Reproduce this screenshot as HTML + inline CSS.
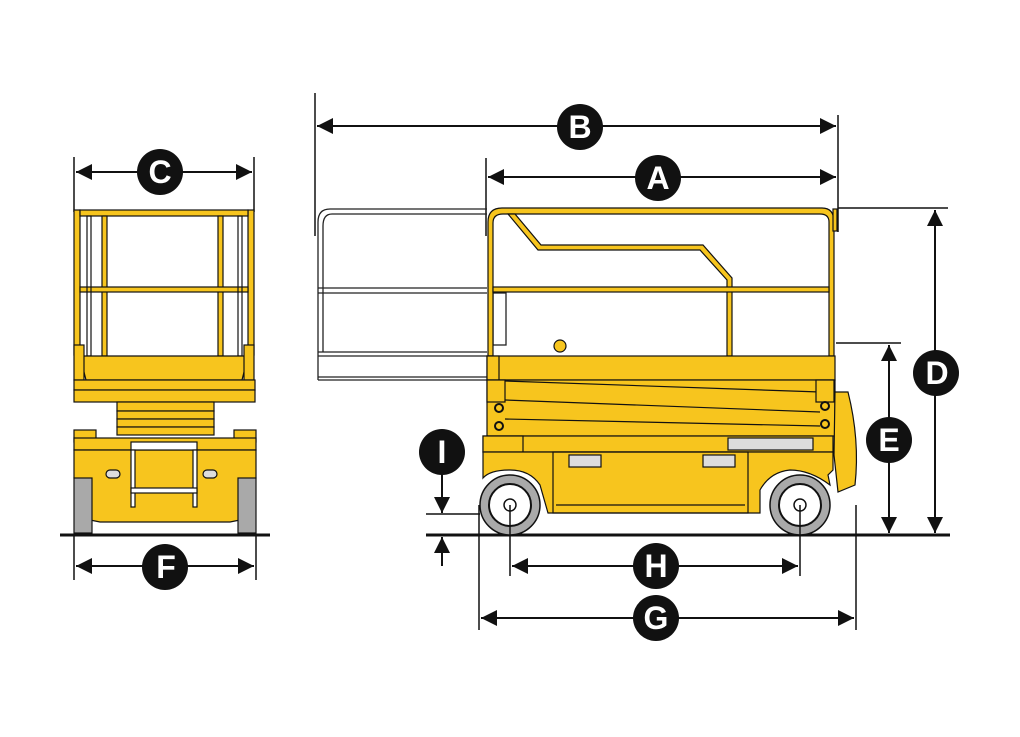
<!DOCTYPE html>
<html><head><meta charset="utf-8"><style>
html,body{margin:0;padding:0;background:#fff;}
svg{display:block}
text{font-family:"Liberation Sans",sans-serif;font-weight:bold;fill:#fff;text-anchor:middle;}
</style></head><body>
<svg width="1020" height="737" viewBox="0 0 1020 737" xmlns="http://www.w3.org/2000/svg">
<defs>
<marker id="ar" viewBox="0 0 10 10" refX="10" refY="5" markerWidth="10" markerHeight="10" markerUnits="userSpaceOnUse" orient="auto-start-reverse"><path d="M0,1 L10,5 L0,9 z" fill="#111"/></marker>
<marker id="arb" viewBox="0 0 10 10" refX="10" refY="5" markerWidth="20" markerHeight="16" markerUnits="userSpaceOnUse" orient="auto-start-reverse"><path d="M0,0 L10,5 L0,10 z" fill="#111"/></marker>
</defs>
<g stroke="#111" stroke-width="1.5" fill="none">
<!-- extension lines -->
<line x1="315" y1="93" x2="315" y2="236"/>
<line x1="838" y1="115" x2="838" y2="232"/>
<line x1="486" y1="158" x2="486" y2="236"/>
<line x1="74" y1="157" x2="74" y2="212"/>
<line x1="254" y1="157" x2="254" y2="212"/>
<line x1="838" y1="208" x2="948" y2="208"/>
<line x1="836" y1="343" x2="901" y2="343"/>
<line x1="74" y1="535" x2="74" y2="580"/>
<line x1="256" y1="535" x2="256" y2="580"/>
<line x1="510" y1="505" x2="510" y2="576"/>
<line x1="800" y1="505" x2="800" y2="576"/>
<line x1="479" y1="505" x2="479" y2="630"/>
<line x1="856" y1="505" x2="856" y2="630"/>
<line x1="426" y1="514" x2="480" y2="514"/>
<!-- dimension lines -->
<line x1="317" y1="126" x2="836" y2="126" stroke-width="2" marker-start="url(#arb)" marker-end="url(#arb)"/>
<line x1="488" y1="177" x2="836" y2="177" stroke-width="2" marker-start="url(#arb)" marker-end="url(#arb)"/>
<line x1="76" y1="172" x2="252" y2="172" stroke-width="2" marker-start="url(#arb)" marker-end="url(#arb)"/>
<line x1="935" y1="210" x2="935" y2="533" stroke-width="2" marker-start="url(#arb)" marker-end="url(#arb)"/>
<line x1="889" y1="345" x2="889" y2="533" stroke-width="2" marker-start="url(#arb)" marker-end="url(#arb)"/>
<line x1="76" y1="566" x2="254" y2="566" stroke-width="2" marker-start="url(#arb)" marker-end="url(#arb)"/>
<line x1="512" y1="566" x2="798" y2="566" stroke-width="2" marker-start="url(#arb)" marker-end="url(#arb)"/>
<line x1="481" y1="618" x2="854" y2="618" stroke-width="2" marker-start="url(#arb)" marker-end="url(#arb)"/>
<line x1="442" y1="470" x2="442" y2="513" stroke-width="2" marker-end="url(#arb)"/>
<line x1="442" y1="566" x2="442" y2="537" stroke-width="2" marker-end="url(#arb)"/>
<!-- ground -->
<line x1="60" y1="535" x2="270" y2="535" stroke-width="3"/>
<line x1="426" y1="535" x2="950" y2="535" stroke-width="3"/>
</g>

<!-- extension platform (outline) -->
<g stroke="#222" stroke-width="1.3" fill="none">
<path d="M487,209 L330,209 Q318,209 318,222 L318,380"/>
<path d="M487,214 L332,214 Q323,214 323,226 L323,352"/>
<line x1="318" y1="288" x2="487" y2="288"/><line x1="318" y1="293" x2="487" y2="293"/>
<line x1="318" y1="352" x2="487" y2="352"/><line x1="318" y1="356" x2="487" y2="356"/>
<line x1="318" y1="377" x2="487" y2="377"/><line x1="318" y1="380" x2="487" y2="380"/>
<rect x="493" y="293" width="13" height="52"/>
</g>

<!-- SIDE VIEW MACHINE -->
<g stroke="#111" stroke-width="1.2" fill="#F7C51E">
<!-- guardrail -->
<path d="M488,356 L488,222 Q488,208 502,208 L822,208 Q834,208 834,222 L834,356 L829,356 L829,222 Q829,214 820,214 L503,214 Q493,214 493,223 L493,356 z"/>
<path d="M508,214 L538,250 L700,250 L727,280 L727,356 L732,356 L732,278 L703,245 L541,245 L515,214 z"/>
<rect x="493" y="287" width="336" height="5"/>
<rect x="833" y="209" width="4" height="22"/>
<!-- deck -->
<rect x="487" y="356" width="348" height="24"/>
<rect x="487" y="356" width="12" height="24"/>
<circle cx="560" cy="346" r="6"/>
<!-- scissor -->
<rect x="487" y="380" width="348" height="56"/>
<path d="M505,381 L820,392 M505,400 L820,412 M505,419 L820,426" fill="none"/>
<rect x="487" y="380" width="18" height="22"/>
<rect x="816" y="380" width="18" height="22"/>
<circle cx="499" cy="408" r="4" fill="#F7C51E" stroke-width="2"/>
<circle cx="499" cy="426" r="4" fill="#F7C51E" stroke-width="2"/>
<circle cx="825" cy="406" r="4" fill="#F7C51E" stroke-width="2"/>
<circle cx="825" cy="424" r="4" fill="#F7C51E" stroke-width="2"/>
<!-- bumper -->
<path d="M835,392 L848,392 Q860,440 855,485 L838,492 L834,455 z"/>
<!-- chassis -->
<rect x="483" y="436" width="350" height="16"/>
<rect x="483" y="436" width="40" height="16"/>
<rect x="728" y="438" width="85" height="12" fill="#ddd"/>
<path d="M483,452 L833,452 L833,470 L828,475 L830,485 Q810,470 790,470 Q770,472 760,490 L760,513 L548,513 L540,485 Q530,470 510,470 Q490,470 483,478 z"/>
<rect x="569" y="455" width="32" height="12" fill="#ddd"/>
<rect x="703" y="455" width="32" height="12" fill="#ddd"/>
<rect x="553" y="452" width="195" height="61" fill="none"/>
<line x1="556" y1="505" x2="745" y2="505"/>
</g>
<!-- wheels -->
<g stroke="#111" stroke-width="1.5">
<circle cx="510" cy="505" r="30" fill="#a9a9a9"/>
<circle cx="510" cy="505" r="21" fill="#fff" stroke-width="2"/>
<circle cx="510" cy="505" r="6" fill="#fff"/>
<circle cx="800" cy="505" r="30" fill="#a9a9a9"/>
<circle cx="800" cy="505" r="21" fill="#fff" stroke-width="2"/>
<circle cx="800" cy="505" r="6" fill="#fff"/>
<line x1="510" y1="505" x2="510" y2="535"/><line x1="800" y1="505" x2="800" y2="535"/>
</g>

<!-- FRONT VIEW -->
<g stroke="#111" stroke-width="1.2" fill="#F7C51E">
<rect x="74" y="210" width="6" height="145"/>
<rect x="248" y="210" width="6" height="145"/>
<rect x="80" y="210" width="168" height="6"/>
<rect x="102" y="216" width="5" height="140"/>
<rect x="218" y="216" width="5" height="140"/>
<rect x="80" y="287" width="168" height="5"/>
<rect x="87" y="216" width="4" height="140" fill="none"/>
<rect x="238" y="216" width="4" height="140" fill="none"/>
<path d="M80,356 L248,356 L242,380 L86,380 z"/>
<rect x="74" y="345" width="10" height="35"/><rect x="244" y="345" width="10" height="35"/>
<rect x="74" y="380" width="181" height="10"/>
<rect x="74" y="390" width="181" height="12"/>
<rect x="117" y="402" width="97" height="9"/>
<rect x="117" y="411" width="97" height="8"/>
<rect x="117" y="419" width="97" height="8"/>
<rect x="117" y="427" width="97" height="8"/>
<rect x="74" y="430" width="22" height="12"/><rect x="234" y="430" width="22" height="12"/>
<rect x="74" y="438" width="182" height="12"/>
<path d="M74,450 L256,450 L256,478 L240,482 L240,520 L230,522 L100,522 L90,520 L90,482 L74,478 z"/>
<rect x="131" y="442" width="66" height="8" fill="#fff"/>
<rect x="131" y="450" width="4" height="57" fill="#fff"/>
<rect x="193" y="450" width="4" height="57" fill="#fff"/>
<rect x="131" y="488" width="66" height="5" fill="#fff"/>
<rect x="106" y="470" width="14" height="8" rx="4" fill="#ddd"/>
<rect x="203" y="470" width="14" height="8" rx="4" fill="#ddd"/>
<rect x="74" y="478" width="18" height="55" fill="#a9a9a9"/>
<rect x="238" y="478" width="18" height="55" fill="#a9a9a9"/>
</g>

<!-- labels -->
<g fill="#111">
<circle cx="580" cy="127" r="23"/><circle cx="658" cy="178" r="23"/>
<circle cx="160" cy="172" r="23"/><circle cx="936" cy="373" r="23"/>
<circle cx="889" cy="440" r="23"/><circle cx="442" cy="452" r="23"/>
<circle cx="165" cy="567" r="23"/><circle cx="656" cy="566" r="23"/>
<circle cx="656" cy="618" r="23"/>
</g>
<g font-size="32">
<text x="580" y="138">B</text><text x="658" y="189">A</text>
<text x="160" y="183">C</text><text x="937" y="384">D</text>
<text x="889" y="451">E</text><text x="442" y="463">I</text>
<text x="166" y="578">F</text><text x="656" y="577">H</text>
<text x="656" y="629">G</text>
</g>
</svg>
</body></html>
